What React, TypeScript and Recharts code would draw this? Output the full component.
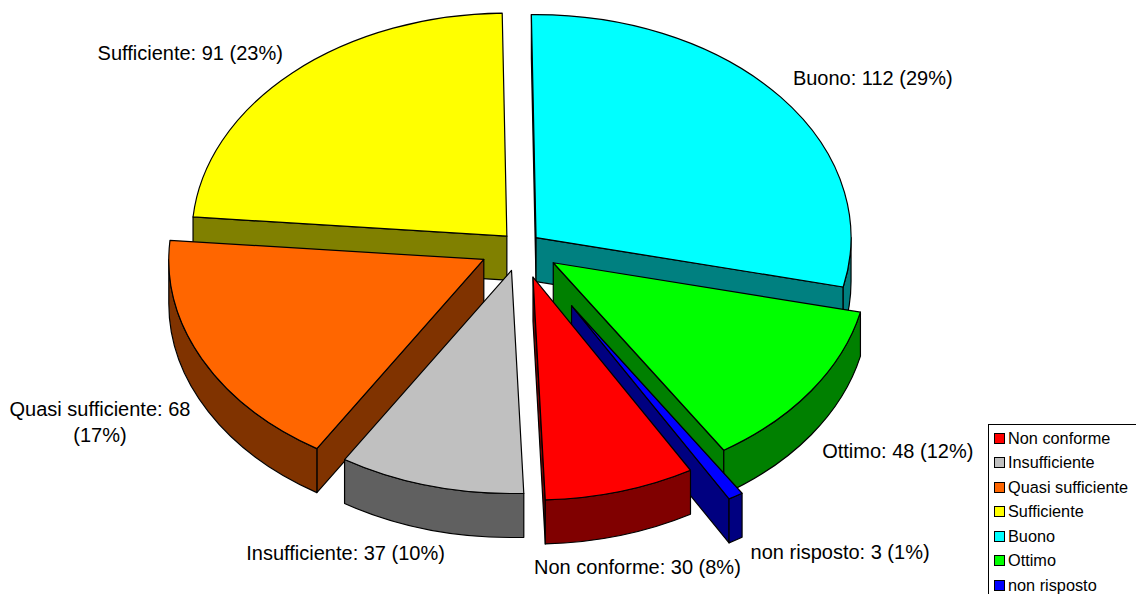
import React from "react";
import { PieChart, Pie, Legend } from "recharts";

const categories = ["Non conforme", "Insufficiente", "Quasi sufficiente", "Sufficiente", "Buono", "Ottimo", "non risposto"];
const values = [30, 37, 68, 91, 112, 48, 3];
const topColors = ["#FF0000", "#C0C0C0", "#FF6600", "#FFFF00", "#00FFFF", "#00FF00", "#0000FF"];
const sideColors = ["#800000", "#606060", "#803300", "#808000", "#008080", "#008000", "#000080"];
const explode = [45, 35, 41, 20, 20, 40, 98];
// back to front, later slices overlap the earlier ones
const paintOrder = ["Sufficiente", "Buono", "Ottimo", "non risposto", "Quasi sufficiente", "Insufficiente", "Non conforme"];

const labelOffsets: Record<string, [number, number]> = {
  "Non conforme": [17, 76],
  Insufficiente: [-85, 67],
  "Quasi sufficiente": [-102, 63],
  Sufficiente: [-102, -20],
  Buono: [92, -19],
  Ottimo: [86.5, 60.5],
  "non risposto": [104.5, 56],
};

const data = categories.map((name, i) => ({ name, value: values[i] }));

const TILT = 0.708;
const DEPTH = 44;
const FONT = '"Liberation Sans", Arial, sans-serif';

const rad = (d: number) => (d * Math.PI) / 180;

// theta is clockwise from the top of the ellipse
const project = (cx: number, cy: number, r: number, theta: number, drop = 0) => ({
  x: cx + r * Math.sin(rad(theta)),
  y: cy - r * TILT * Math.cos(rad(theta)) + drop,
});

const makeSlice = (only: string) => (props: any) => {
  const { cx, cy, outerRadius, startAngle, endAngle, midAngle, name } = props;
  if (name !== only) return <g />;
  const idx = categories.indexOf(name);
  const delta = Math.abs(startAngle - endAngle);
  const t0 = (((90 - startAngle) % 360) + 360) % 360;
  const t1 = t0 + delta;
  const mid = 90 - midAngle;
  const ox = explode[idx] * Math.sin(rad(mid));
  const oy = -explode[idx] * TILT * Math.cos(rad(mid));
  const x0 = cx + ox;
  const y0 = cy + oy;
  const r = outerRadius;
  const p = (t: number, drop = 0) => project(x0, y0, r, t, drop);
  const arcTo = (t: number, drop = 0, sweep = 1) => {
    const q = p(t, drop);
    return `A${r} ${r * TILT} 0 0 ${sweep} ${q.x} ${q.y}`;
  };
  const style = { stroke: "#000", strokeWidth: 1.2, strokeLinejoin: "round" as const };
  const side = sideColors[idx];
  const walls: string[] = [];
  const cutFace = (t: number) => {
    const a = p(t);
    const b = p(t, DEPTH);
    return `M${x0} ${y0}L${a.x} ${a.y}L${b.x} ${b.y}L${x0} ${y0 + DEPTH}Z`;
  };
  const norm = t0 % 360;
  const normEnd = t1 % 360;
  if (norm > 180) walls.push(cutFace(t0));
  if (normEnd < 180) walls.push(cutFace(t1));
  [90, 450].forEach((low) => {
    const from = Math.max(t0, low);
    const to = Math.min(t1, low + 180);
    if (from < to) {
      const a = p(from);
      const b = p(to, DEPTH);
      walls.push(`M${a.x} ${a.y}${arcTo(to)}L${b.x} ${b.y}${arcTo(from, DEPTH, 0)}Z`);
    }
  });
  const start = p(t0);
  const top = `M${x0} ${y0}L${start.x} ${start.y}${arcTo(t1)}Z`;
  return (
    <g>
      {walls.map((d, i) => (
        <path key={i} d={d} fill={side} {...style} />
      ))}
      <path d={top} fill={topColors[idx]} {...style} />
    </g>
  );
};

const renderLabel = (props: any) => {
  const { cx, cy, outerRadius, midAngle, name, value, percent } = props;
  const idx = categories.indexOf(name);
  const mid = 90 - midAngle;
  const pt = project(cx, cy, outerRadius + explode[idx], mid);
  const [dx, dy] = labelOffsets[name];
  const pct = `(${Math.round(percent * 100)}%)`;
  const common = { x: pt.x + dx, textAnchor: "middle" as const, fontFamily: FONT, fontSize: 20, fill: "#000" };
  if (name === "Quasi sufficiente") {
    return (
      <text {...common} y={pt.y + dy}>
        <tspan x={pt.x + dx} y={pt.y + dy - 6}>{`${name}: ${value}`}</tspan>
        <tspan x={pt.x + dx} y={pt.y + dy + 20}>{pct}</tspan>
      </text>
    );
  }
  return (
    <text {...common} y={pt.y + dy + 7}>
      {`${name}: ${value} ${pct}`}
    </text>
  );
};

const LegendBox = () => (
  <div
    style={{
      borderLeft: "1px solid #000",
      borderTop: "1px solid #000",
      background: "#fff",
      width: 160,
      height: 180,
      boxSizing: "border-box",
      paddingTop: 1,
      fontFamily: FONT,
      fontSize: 16.3,
      color: "#000",
    }}
  >
    {categories.map((name, i) => (
      <div key={name} style={{ display: "flex", alignItems: "center", height: 24.5, paddingLeft: 5 }}>
        <span
          style={{
            display: "inline-block",
            width: 9,
            height: 9,
            background: topColors[i],
            border: "1px solid #000",
            marginRight: 3,
          }}
        />
        <span style={{ whiteSpace: "nowrap" }}>{name}</span>
      </div>
    ))}
  </div>
);

export default function App() {
  return (
    <div style={{ position: "absolute", left: 0, top: 0, width: 1136, height: 594, overflow: "hidden", background: "#fff" }}>
      <PieChart width={1136} height={594} margin={{ top: 0, right: 0, bottom: 0, left: 0 }}>
        {paintOrder.map((name, i) => (
          <Pie
            key={name}
            data={data}
            dataKey="value"
            nameKey="name"
            cx={520.5}
            cy={246.5}
            innerRadius={0}
            outerRadius={315}
            startAngle={-60}
            endAngle={-420}
            paddingAngle={0}
            stroke="none"
            shape={makeSlice(name)}
            label={i === paintOrder.length - 1 ? renderLabel : false}
            labelLine={false}
            legendType="none"
            isAnimationActive={false}
          />
        ))}
        <Legend
          content={<LegendBox />}
          wrapperStyle={{ position: "absolute", left: 988, top: 424, width: 160, height: 180, margin: 0 }}
        />
      </PieChart>
    </div>
  );
}
